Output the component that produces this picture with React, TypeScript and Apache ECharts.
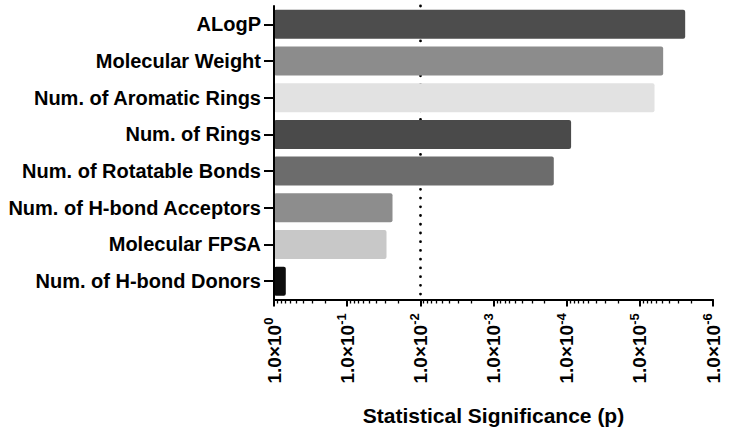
import React, { useEffect, useRef } from "react";
import * as echarts from "echarts";

const categories = [
  "ALogP",
  "Molecular Weight",
  "Num. of Aromatic Rings",
  "Num. of Rings",
  "Num. of Rotatable Bonds",
  "Num. of H-bond Acceptors",
  "Molecular FPSA",
  "Num. of H-bond Donors",
];
// p-values (log axis)
const pValues = [2.4e-6, 4.8e-6, 6.3e-6, 8.7e-5, 1.5e-4, 2.4e-2, 2.9e-2, 0.69];
const barColors = [
  "#4d4d4d",
  "#8c8c8c",
  "#e2e2e2",
  "#4a4a4a",
  "#6c6c6c",
  "#8d8d8d",
  "#c8c8c8",
  "#0d0d0d",
];
const axisMin = 1e-6;
const axisMax = 1;
const significanceThreshold = 0.01;
const minorMultipliers = [2, 3, 4, 5, 6, 7, 8, 9];
const decadeExponents = [-1, -2, -3, -4, -5, -6];

const FONT = "Liberation Sans, Arial, sans-serif";

export default function App() {
  const ref = useRef<HTMLDivElement>(null);

  useEffect(() => {
    if (!ref.current) return;
    const chart = echarts.init(ref.current, null, { renderer: "svg" });

    const minorTicks: number[] = [];
    decadeExponents.forEach((e) => {
      minorMultipliers.forEach((m) => minorTicks.push(m * Math.pow(10, e)));
    });

    const option: any = {
      animation: false,
      backgroundColor: "#ffffff",
      grid: { left: 274, right: 16, top: 6, bottom: 134.5, containLabel: false },
      xAxis: [
        {
          type: "log",
          logBase: 10,
          min: axisMin,
          max: axisMax,
          inverse: true,
          position: "bottom",
          z: 3,
          axisLine: { show: true, lineStyle: { color: "#000", width: 2 } },
          axisTick: { show: true, length: 7, lineStyle: { color: "#000", width: 2 } },
          splitLine: { show: false },
          axisLabel: {
            rotate: 90,
            margin: 84,
            align: "left",
            formatter: (v: number) => {
              const e = Math.round(Math.log10(v));
              return `{b|1.0×10}{s|${e}}`;
            },
            rich: {
              b: { fontFamily: FONT, fontWeight: "bold", fontSize: 19, color: "#000", lineHeight: 24 },
              s: {
                fontFamily: FONT,
                fontWeight: "bold",
                fontSize: 13,
                color: "#000",
                verticalAlign: "top",
                lineHeight: 24,
              },
            },
          },
          name: "Statistical Significance (p)",
          nameLocation: "middle",
          nameGap: 105,
          nameTextStyle: { fontFamily: FONT, fontWeight: "bold", fontSize: 21, color: "#000" },
        },
        {
          type: "log",
          logBase: 10,
          min: axisMin,
          max: axisMax,
          inverse: true,
          position: "top",
          offset: -293.5,
          axisLine: { show: false },
          axisLabel: { show: false },
          splitLine: { show: false },
          axisTick: {
            show: true,
            inside: true,
            length: 4,
            customValues: minorTicks,
            lineStyle: { color: "#000", width: 1.3 },
          },
        },
      ],
      yAxis: {
        type: "category",
        data: categories,
        inverse: true,
        z: 3,
        axisLine: { show: true, lineStyle: { color: "#000", width: 2 } },
        axisTick: { show: true, alignWithLabel: true, length: 10, lineStyle: { color: "#000", width: 2 } },
        axisLabel: {
          margin: 13,
          fontFamily: FONT,
          fontWeight: "bold",
          fontSize: 20,
          color: "#000",
        },
        splitLine: { show: false },
      },
      series: [
        {
          type: "bar",
          xAxisIndex: 0,
          barWidth: 29,
          data: pValues.map((p, i) => ({
            value: p,
            itemStyle: { color: barColors[i], borderRadius: 2 },
          })),
          markLine: {
            silent: true,
            z: 1,
            symbol: "none",
            label: { show: false },
            lineStyle: { color: "#000", width: 2.8, type: [0, 8.73], cap: "round" },
            data: [{ xAxis: significanceThreshold }],
          },
        },
      ],
    };

    chart.setOption(option);
    return () => chart.dispose();
  }, []);

  return (
    <div
      ref={ref}
      style={{ position: "fixed", left: 0, top: 0, width: 729, height: 434 }}
    />
  );
}
